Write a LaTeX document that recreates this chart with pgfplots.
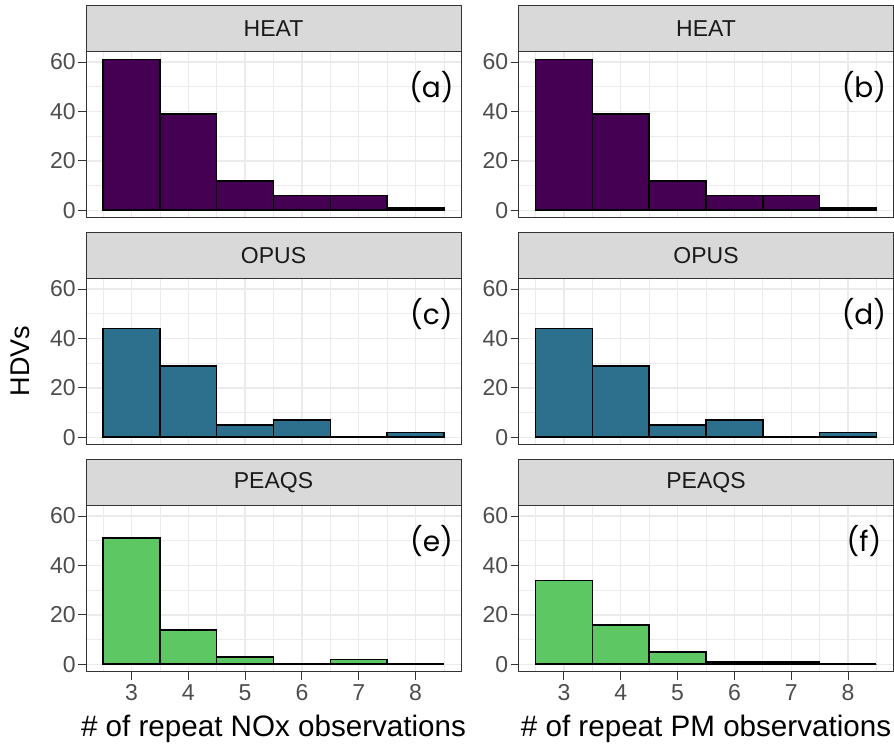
\documentclass[border=0pt]{standalone}
\usepackage{pgfplots}
\pgfplotsset{compat=1.18}
\usepackage{fontspec}
\setmainfont{Liberation Sans}
\newfontfamily\labfont{Poppins}
\definecolor{g20}{HTML}{333333}
\definecolor{g30}{HTML}{4D4D4D}
\definecolor{g10}{HTML}{1A1A1A}
\definecolor{g85}{HTML}{D9D9D9}
\definecolor{gridgray}{HTML}{EBEBEB}
\definecolor{cheat}{HTML}{450054}
\definecolor{copus}{HTML}{2D708E}
\definecolor{cpeaqs}{HTML}{5DC863}
\pgfplotsset{
 panel/.style={
  scale only axis, width=187.5pt, height=83pt,
  xmin=2.2, xmax=8.8, ymin=-3.05, ymax=64.05, enlargelimits=false,
  xtick={3,4,5,6,7,8}, minor xtick={2.5,3.5,4.5,5.5,6.5,7.5,8.5},
  ytick={0,20,40,60}, minor ytick={10,30,50},
  grid=both,
  major grid style={line width=0.7pt, color=gridgray},
  minor grid style={line width=0.35pt, color=gridgray},
  axis line style={draw=g20, line width=0.5pt},
  tick align=outside, xtick pos=bottom, ytick pos=left,
  major tick length=4pt, minor tick length=0pt,
  tick style={draw=g20, line width=0.5pt},
  /pgf/number format/assume math mode=true,
  ticklabel style={font=\fontsize{11.5}{12}\selectfont, text=g30},
  yticklabel style={inner sep=1pt},
  xticklabel style={inner sep=2pt},
  clip=false,
 },
 top/.style={xticklabels={}, xmajorticks=false},
 bars/.style={ybar, bar width=1, bar shift=0pt, fill=#1, draw=black, line width=0.8pt},
 base/.style={const plot, draw=black, line width=1pt, mark=none},
}
\newcommand{\strip}[1]{%
 \draw[fill=g85, draw=g20, line width=0.5pt] (rel axis cs:0,1) rectangle ([yshift=23pt]rel axis cs:1,1);
 \node[font=\fontsize{11.5}{12}\selectfont, text=g10] at ([yshift=11.5pt]rel axis cs:0.5,1) {#1};}
\newcommand{\lab}[1]{\node[font=\labfont\fontsize{14}{14}\selectfont, text=black] at (axis cs:8.28,50) {#1};}
\begin{document}
\begin{tikzpicture}
\useasboundingbox (0,0) rectangle (447pt,372pt);
% row 1
\begin{axis}[panel, top, at={(43pt,263pt)}, anchor=south west]
\addplot[bars=cheat] coordinates {(3,61) (4,39) (5,12) (6,6) (7,6) (8,1)};
\addplot[base] coordinates {(2.5,0) (8.5,0)};
\strip{HEAT}\lab{(a)}
\end{axis}
\begin{axis}[panel, top, at={(259.25pt,263pt)}, anchor=south west]
\addplot[bars=cheat] coordinates {(3,61) (4,39) (5,12) (6,6) (7,6) (8,1)};
\addplot[base] coordinates {(2.5,0) (8.5,0)};
\strip{HEAT}\lab{(b)}
\end{axis}
% row 2
\begin{axis}[panel, top, at={(43pt,149.5pt)}, anchor=south west]
\addplot[bars=copus] coordinates {(3,44) (4,29) (5,5) (6,7) (7,0) (8,2)};
\addplot[base] coordinates {(2.5,0) (8.5,0)};
\strip{OPUS}\lab{(c)}
\end{axis}
\begin{axis}[panel, top, at={(259.25pt,149.5pt)}, anchor=south west]
\addplot[bars=copus] coordinates {(3,44) (4,29) (5,5) (6,7) (7,0) (8,2)};
\addplot[base] coordinates {(2.5,0) (8.5,0)};
\strip{OPUS}\lab{(d)}
\end{axis}
% row 3
\begin{axis}[panel, at={(43pt,36pt)}, anchor=south west]
\addplot[bars=cpeaqs] coordinates {(3,51) (4,14) (5,3) (6,0) (7,2) (8,0)};
\addplot[base] coordinates {(2.5,0) (8.5,0)};
\strip{PEAQS}\lab{(e)}
\end{axis}
\begin{axis}[panel, at={(259.25pt,36pt)}, anchor=south west]
\addplot[bars=cpeaqs] coordinates {(3,34) (4,16) (5,5) (6,1) (7,1) (8,0)};
\addplot[base] coordinates {(2.5,0) (8.5,0)};
\strip{PEAQS}\lab{(f)}
\end{axis}
\node[rotate=90, font=\fontsize{13.5}{14}\selectfont, text=black] at (10pt,191.5pt) {HDVs};
\node[anchor=base, font=\fontsize{14.8}{15}\selectfont, text=black] at (136.75pt,3.5pt) {\# of repeat NOx observations};
\node[anchor=base, font=\fontsize{14.8}{15}\selectfont, text=black] at (353pt,3.5pt) {\# of repeat PM observations};
\end{tikzpicture}
\end{document}
